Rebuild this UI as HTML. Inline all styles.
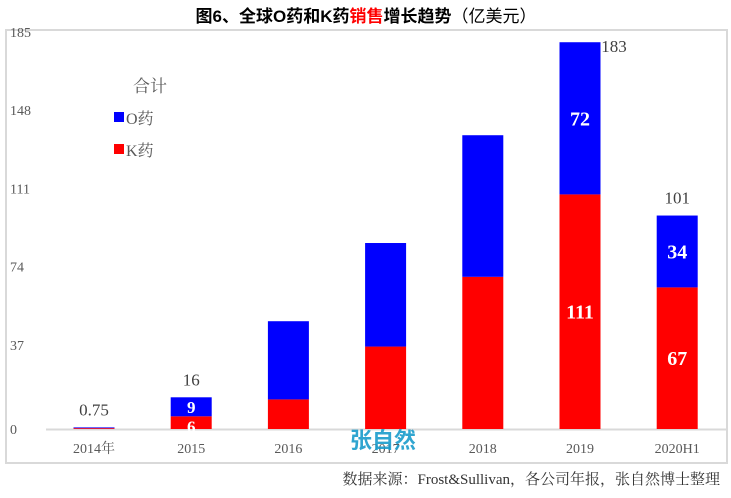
<!DOCTYPE html>
<html><head><meta charset="utf-8"><style>
body{margin:0;background:#fff;width:731px;height:493px;overflow:hidden}
svg text{font-family:"Liberation Serif","Noto Serif CJK SC",serif}
</style></head><body>
<svg width="731" height="493">
<text x="366" y="22" text-anchor="middle" font-size="17" font-weight="bold" style="font-family:'Liberation Sans','Noto Sans CJK SC',sans-serif">图6、全球O药和K药<tspan fill="#ff0000">销售</tspan>增长趋势<tspan font-weight="normal">（亿美元）</tspan></text>
<rect x="6" y="30" width="721" height="433" fill="none" stroke="#d9d9d9" stroke-width="2"/>
<g id="yticks"></g>
<line x1="46" y1="429.5" x2="726" y2="429.5" stroke="#d9d9d9" stroke-width="2"/>
<g id="bars"></g>
<text x="150" y="92" text-anchor="middle" font-size="17" fill="#595959">合计</text>
<rect x="114" y="112" width="10" height="10" fill="#0000ff"/>
<text x="126" y="124" font-size="16" fill="#595959">O药</text>
<rect x="114" y="144" width="10" height="10" fill="#ff0000"/>
<text x="126" y="156" font-size="16" fill="#595959">K药</text>
<text x="383" y="448" text-anchor="middle" font-size="22" font-weight="bold" fill="#1a9ccc" opacity="0.9" style="font-family:'Liberation Sans','Noto Sans CJK SC',sans-serif">张自然</text>
<text x="720" y="484" text-anchor="end" font-size="15" fill="#333">数据来源：Frost&amp;Sullivan，各公司年报，张自然博士整理</text>
</svg>
<script>
const categories=["2014年","2015","2016","2017","2018","2019","2020H1"];
const kValues=[0.4,6,14,39,72,111,67];
const oValues=[0.35,9,37,49,67,72,34];
const totalLabels=["0.75","16","","","","183","101"];
const kLabels=["","6","","","","111","67"];
const oLabels=["","9","","","","72","34"];
const yTicks=[0,37,74,111,148,185];
const NS="http://www.w3.org/2000/svg";
const y0=429,yTop=38,yMax=185;
function y(v){return y0-(v/yMax)*(y0-yTop);}
function x(i){return 94+i*97.2;}
const bw=41;
function mk(tag,attrs,parent,text){const e=document.createElementNS(NS,tag);for(const k in attrs)e.setAttribute(k,attrs[k]);if(text!==undefined)e.textContent=text;parent.appendChild(e);return e;}
const yt=document.getElementById('yticks');
yTicks.forEach(t=>{
const el=mk('text',{x:10,y:y(t)+(t===0?5:-1),'font-size':14,fill:'#595959'},yt,String(t));


});
const bg=document.getElementById('bars');
categories.forEach((c,i)=>{
const cx=x(i),k=kValues[i],o=oValues[i];
const r=mk('rect',{x:cx-bw/2,y:y(k),width:bw,height:y0-y(k),fill:'#ff0000'},bg);


const b=mk('rect',{x:cx-bw/2,y:y(k+o),width:bw,height:y(k)-y(k+o),fill:'#0000ff'},bg);


const xl=mk('text',{x:cx,y:453,'text-anchor':'middle','font-size':14,fill:'#595959'},bg,c);


if(totalLabels[i]){
const big=i===5;
const tl=mk('text',{x:big?cx+34:cx,y:y(k+o)-(big?-10:12),'text-anchor':'middle','font-size':17,fill:'#404040'},bg,totalLabels[i]);


}
const fs=i===1?17:20;
if(kLabels[i]){
const kl=mk('text',{x:cx,y:i===1?y(k/2)+10:y(k/2)+7,'text-anchor':'middle','font-size':fs,'font-weight':'bold',fill:'#fff'},bg,kLabels[i]);


}
if(oLabels[i]){
const ol=mk('text',{x:cx,y:y(k+o/2)+(i===1?6:7),'text-anchor':'middle','font-size':fs,'font-weight':'bold',fill:'#fff'},bg,oLabels[i]);


}
});
</script>
</body></html>
